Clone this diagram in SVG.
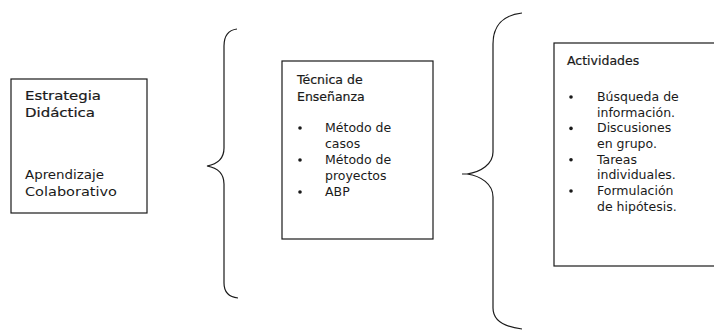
<svg xmlns="http://www.w3.org/2000/svg" width="714" height="335" viewBox="0 0 714 335">
<style>
.box{fill:#fff;stroke:#1a1a1a;stroke-width:1.2}
.t{font-family:"DejaVu Sans","Liberation Sans",sans-serif;font-size:12.5px;fill:#1a1a1a}
.h{stroke:#1a1a1a;stroke-width:0.2}
.b{fill:#1a1a1a}
.brace{fill:none;stroke:#1a1a1a;stroke-width:1.2}
</style>
<rect width="714" height="335" fill="#fff"/>
<g id="connectors">
<path class="brace" d="M237,29 C229,30 224,35 224,46 L224,148 C224,158 218,164 207,166 C218,168 224,174 224,184 L224,283 C224,292 229,297 238,298"/>
<path class="brace" d="M522,13 C503,15 493,26 493,44 L493,152 C493,164 481,172 467,174 L462,174 M467,174 C481,176 493,184 493,197 L493,308 C493,321 505,327 522,329"/>
</g>
<g id="estrategia">
<rect class="box" x="11" y="79" width="136" height="134"/>
<text class="t h" x="25" y="100" textLength="76" lengthAdjust="spacingAndGlyphs">Estrategia</text>
<text class="t h" x="25" y="116.5" textLength="70" lengthAdjust="spacingAndGlyphs">Didáctica</text>
<text class="t" x="25" y="179" textLength="79" lengthAdjust="spacingAndGlyphs">Aprendizaje</text>
<text class="t" x="25" y="196" textLength="92" lengthAdjust="spacingAndGlyphs">Colaborativo</text>
</g>
<g id="tecnica">
<rect class="box" x="282" y="61" width="151" height="178"/>
<text class="t h" x="297" y="84">Técnica de</text>
<text class="t h" x="297" y="100.5">Enseñanza</text>
<circle class="b" cx="300" cy="128" r="1.8"/>
<text class="t" x="325" y="132">Método de</text>
<text class="t" x="325" y="148">casos</text>
<circle class="b" cx="300" cy="160" r="1.8"/>
<text class="t" x="325" y="164">Método de</text>
<text class="t" x="325" y="180">proyectos</text>
<circle class="b" cx="300" cy="192" r="1.8"/>
<text class="t" x="325" y="196">ABP</text>
</g>
<g id="actividades">
<rect class="box" x="554" y="43" width="170" height="223"/>
<text class="t h" x="567" y="65">Actividades</text>
<circle class="b" cx="571" cy="97" r="1.8"/>
<text class="t" x="597" y="101">Búsqueda de</text>
<text class="t" x="597" y="116.7">información.</text>
<circle class="b" cx="571" cy="128.4" r="1.8"/>
<text class="t" x="597" y="132.4">Discusiones</text>
<text class="t" x="597" y="148">en grupo.</text>
<circle class="b" cx="571" cy="159.7" r="1.8"/>
<text class="t" x="597" y="163.7">Tareas</text>
<text class="t" x="597" y="179.4">individuales.</text>
<circle class="b" cx="571" cy="191" r="1.8"/>
<text class="t" x="597" y="195">Formulación</text>
<text class="t" x="597" y="210.8">de hipótesis.</text>
</g>
</svg>
